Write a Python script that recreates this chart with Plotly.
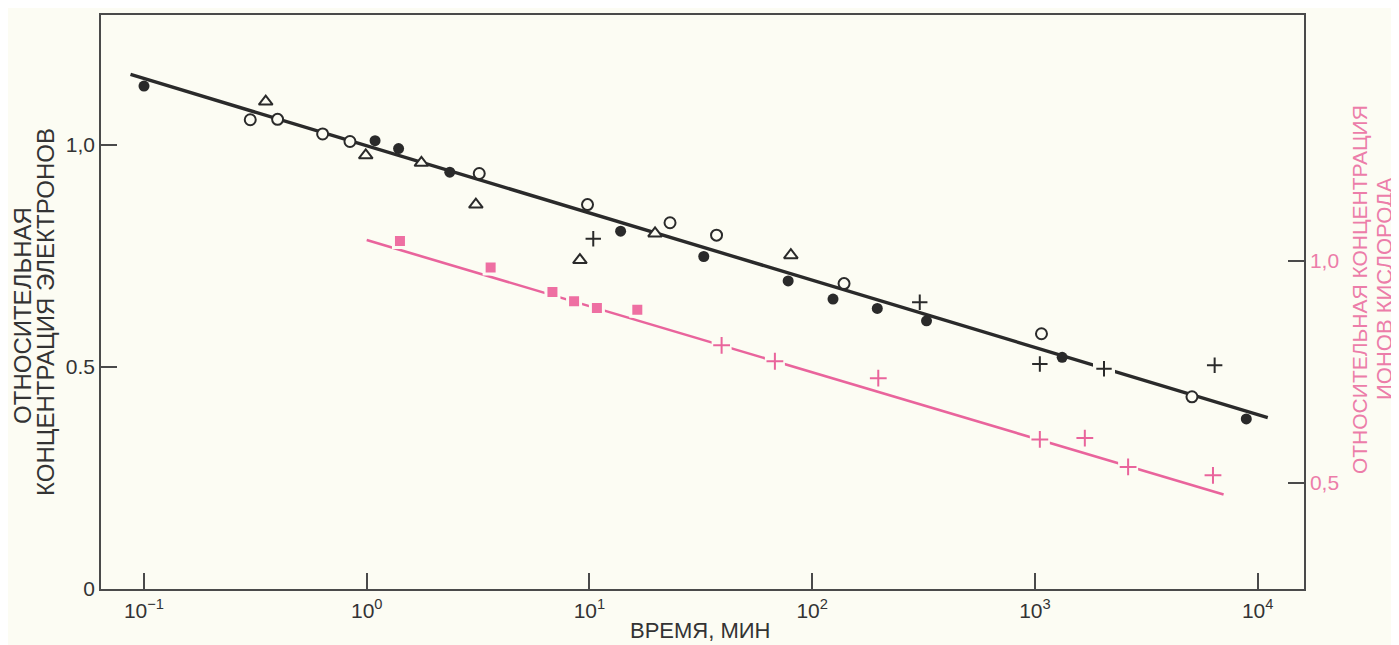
import plotly.graph_objects as go
import numpy as np

# ---------------- data ----------------
# Electrons (left axis)
filled_t = [0.1, 1.09, 1.39, 2.36, 13.8, 32.6, 78, 124, 196, 326, 1325, 8890]
filled_y = [1.133, 1.010, 0.992, 0.939, 0.806, 0.749, 0.694, 0.653, 0.632, 0.604, 0.522, 0.383]

open_t = [0.30, 0.398, 0.634, 0.841, 3.2, 9.8, 23, 37.2, 139, 1070, 5070]
open_y = [1.057, 1.058, 1.025, 1.008, 0.936, 0.866, 0.825, 0.797, 0.688, 0.575, 0.433]

tri_t = [0.352, 0.99, 1.76, 3.09, 9.06, 19.7, 80.2]
tri_y = [1.098, 0.977, 0.960, 0.866, 0.741, 0.801, 0.752]

plus_t = [10.4, 304, 1052, 2042, 6410]
plus_y = [0.789, 0.646, 0.507, 0.496, 0.504]

# electron fit line (end points)
e_line_t = [0.087, 11100]
e_line_y = [1.159, 0.386]

# Oxygen ions (right axis)
sq_t = [1.41, 3.6, 6.82, 8.53, 10.8, 16.4]
sq_y = [1.045, 0.985, 0.930, 0.909, 0.894, 0.890]

oplus_t = [39.2, 68, 198, 1052, 1675, 2620, 6300]
oplus_y = [0.810, 0.774, 0.736, 0.598, 0.601, 0.536, 0.517]

# oxygen fit line (end points)
o_line_t = [1.0, 7030]
o_line_y = [1.047, 0.474]

x_tickvals = [0.1, 1, 10, 100, 1000, 10000]
x_ticktext = ["10<sup>−1</sup>", "10<sup>0</sup>", "10<sup>1</sup>",
              "10<sup>2</sup>", "10<sup>3</sup>", "10<sup>4</sup>"]
yl_tickvals = [0, 0.5, 1.0]
yl_ticktext = ["0", "0.5", "1,0"]
yr_tickvals = [0.5, 1.0]
yr_ticktext = ["0,5", "1,0"]

# ---------------- style ----------------
BG = "#FCFCF3"
INK = "#2A2A2A"
AXIS = "#4A4A4A"
PINK = "#E9649C"
PINK_TXT = "#EC7DA9"
FONT = "Liberation Sans, Arial, sans-serif"


def on_line(ts, ys, lt, ly, tol=0.015):
    """Pick the points that sit on the fitted line (used to break the line there)."""
    lx = np.log10(lt)
    out_t, out_y = [], []
    for t, y in zip(ts, ys):
        yl = np.interp(np.log10(t), lx, ly)
        if abs(y - yl) < tol:
            out_t.append(t)
            out_y.append(y)
    return out_t, out_y


fig = go.Figure()

# fit lines
fig.add_trace(go.Scatter(x=e_line_t, y=e_line_y, mode="lines",
                         line=dict(color=INK, width=3.4), hoverinfo="skip"))
fig.add_trace(go.Scatter(x=o_line_t, y=o_line_y, mode="lines", yaxis="y2",
                         line=dict(color=PINK, width=2.6), hoverinfo="skip"))

# line breaks under crosses that sit on the lines
mt, my = on_line(plus_t, plus_y, e_line_t, e_line_y)
fig.add_trace(go.Scatter(x=mt, y=my, mode="markers", hoverinfo="skip",
                         marker=dict(symbol="square", size=22, color=BG, line=dict(width=0))))
mt, my = on_line(oplus_t, oplus_y, o_line_t, o_line_y)
fig.add_trace(go.Scatter(x=mt, y=my, mode="markers", yaxis="y2", hoverinfo="skip",
                         marker=dict(symbol="square", size=20, color=BG, line=dict(width=0))))

# electron markers
fig.add_trace(go.Scatter(x=filled_t, y=filled_y, mode="markers",
                         marker=dict(symbol="circle", size=11, color=INK, line=dict(width=0))))
fig.add_trace(go.Scatter(x=open_t, y=open_y, mode="markers",
                         marker=dict(symbol="circle", size=11, color=BG,
                                     line=dict(color=INK, width=2))))
fig.add_trace(go.Scatter(x=tri_t, y=tri_y, mode="markers",
                         marker=dict(symbol="triangle-up", size=12, color=BG,
                                     line=dict(color=INK, width=2))))
fig.add_trace(go.Scatter(x=plus_t, y=plus_y, mode="markers",
                         marker=dict(symbol="cross-thin", size=11,
                                     line=dict(color=INK, width=2))))

# oxygen markers
fig.add_trace(go.Scatter(x=sq_t, y=sq_y, mode="markers", yaxis="y2",
                         marker=dict(symbol="square", size=13, color="#EE6FA2",
                                     line=dict(color=BG, width=3))))
fig.add_trace(go.Scatter(x=oplus_t, y=oplus_y, mode="markers", yaxis="y2",
                         marker=dict(symbol="cross-thin", size=12,
                                     line=dict(color=PINK, width=2))))

# ---------------- layout ----------------
# The page body has an 8px margin, so the figure is placed at (8, 8) in the window.
OFF = 8
W, H = 1399 - OFF, 645 - OFF
PL, PR, PT, PB = 101, 1304, 13, 589          # plot box in window pixels
L, R, T, B = PL - OFF, (W + OFF) - PR, PT - OFF, (H + OFF) - PB
pw, ph = PR - PL, PB - PT


def px(xp):
    return (xp - PL) / pw


def py(yp):
    return (PB - yp) / ph


fig.update_layout(
    width=W, height=H,
    margin=dict(l=L, r=R, t=T, b=B),
    paper_bgcolor=BG, plot_bgcolor=BG,
    showlegend=False,
    font=dict(family=FONT, color=INK),
    xaxis=dict(type="log", range=[-1.193, 4.208], showgrid=False, zeroline=False,
               showline=True, mirror=True, linecolor=AXIS, linewidth=1.5,
               ticks="inside", ticklen=16, tickwidth=1.5, tickcolor=AXIS,
               tickvals=x_tickvals, ticktext=x_ticktext,
               tickfont=dict(size=21, color="#333333"), ticklabelstandoff=2),
    yaxis=dict(range=[0, 1.293], showgrid=False, zeroline=False,
               showline=True, linecolor=AXIS, linewidth=1.5,
               ticks="inside", ticklen=16, tickwidth=1.5, tickcolor=AXIS,
               tickvals=yl_tickvals, ticktext=yl_ticktext,
               tickfont=dict(size=21, color="#333333")),
    yaxis2=dict(overlaying="y", side="right", range=[0.261, 1.554], showgrid=False,
                zeroline=False, showline=True, linecolor=AXIS, linewidth=1.5,
                ticks="inside", ticklen=16, tickwidth=1.5, tickcolor=AXIS,
                tickvals=yr_tickvals, ticktext=yr_ticktext,
                tickfont=dict(size=21, color=PINK_TXT)),
)

ann = [
    dict(text="ВРЕМЯ, МИН", x=px(700), y=py(631), size=22, color="#333333", angle=0),
    dict(text="ОТНОСИТЕЛЬНАЯ", x=px(23), y=py(315), size=24, color="#333333", angle=-90),
    dict(text="КОНЦЕНТРАЦИЯ ЭЛЕКТРОНОВ", x=px(46), y=py(311), size=24, color="#333333", angle=-90),
    dict(text="ОТНОСИТЕЛЬНАЯ КОНЦЕНТРАЦИЯ", x=px(1359), y=py(289), size=21, color=PINK_TXT, angle=-90),
    dict(text="ИОНОВ КИСЛОРОДА", x=px(1384), y=py(288), size=22, color=PINK_TXT, angle=-90),
]
for a in ann:
    fig.add_annotation(text=a["text"], x=a["x"], y=a["y"], xref="paper", yref="paper",
                       xanchor="center", yanchor="middle", showarrow=False,
                       textangle=a["angle"], font=dict(size=a["size"], color=a["color"], family=FONT))

fig.write_html("out.html")
